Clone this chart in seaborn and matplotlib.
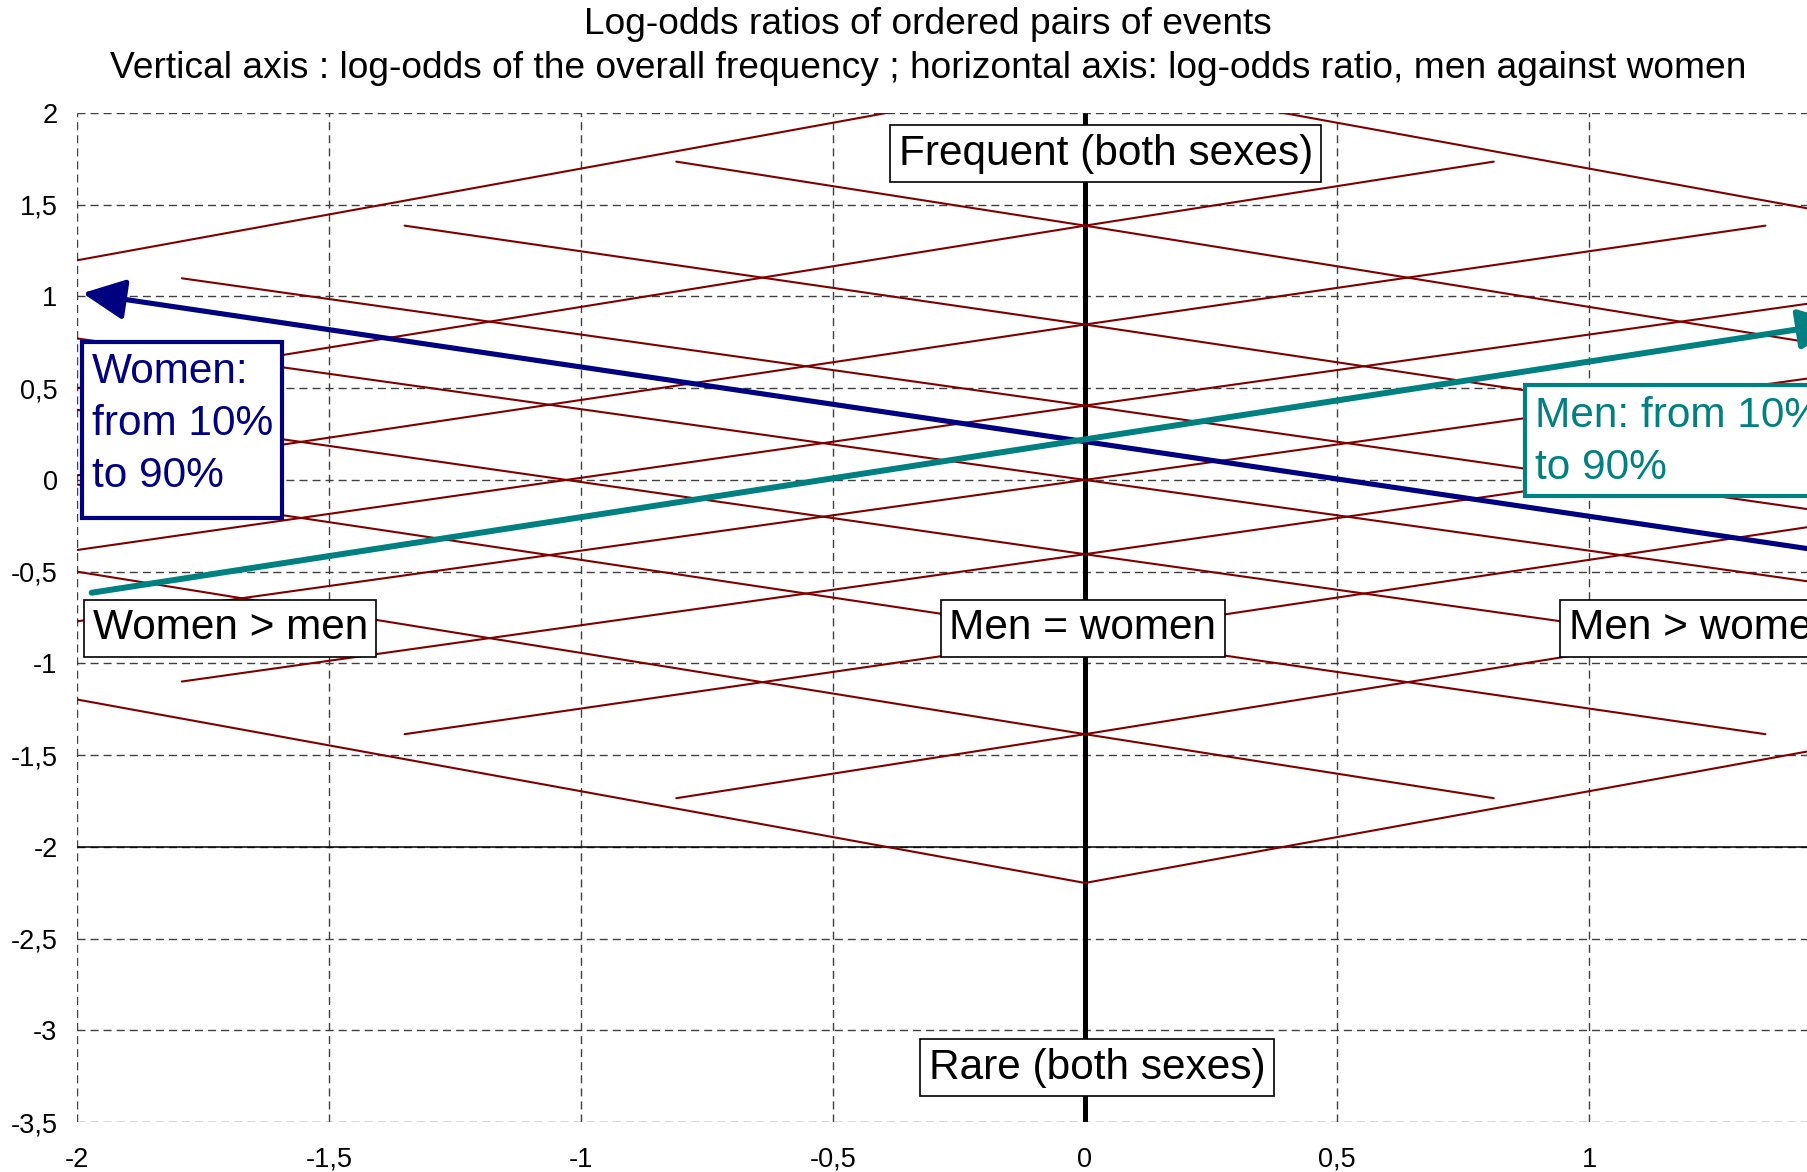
import numpy as np
import pandas as pd
import matplotlib
matplotlib.use("Agg")
import matplotlib.pyplot as plt
import seaborn as sns
from matplotlib.patches import Rectangle

# frequency levels and their log-odds where men = women (crossing on x = 0)
freq_labels = ['10%', '20%', '30%', '40%', '50%', '60%', '70%', '80%', '90%']
equal_logodds = [-2.197, -1.386, -0.847, -0.405, 0.0, 0.405, 0.847, 1.386, 2.197]

# men fixed at each level, women going from 90% to 10%
men_x_w90 = [-4.394, -3.583, -3.045, -2.602, -2.197, -1.792, -1.350, -0.811, 0.0]
men_y_w90 = [0.0, 0.201, 0.405, 0.619, 0.847, 1.099, 1.386, 1.735, 2.197]
men_x_w10 = [0.0, 0.811, 1.350, 1.792, 2.197, 2.602, 3.045, 3.583, 4.394]
men_y_w10 = [-2.197, -1.735, -1.386, -1.099, -0.847, -0.619, -0.405, -0.201, 0.0]

# women fixed at each level, men going from 10% to 90%
women_x_m10 = [0.0, -0.811, -1.350, -1.792, -2.197, -2.602, -3.045, -3.583, -4.394]
women_y_m10 = [-2.197, -1.735, -1.386, -1.099, -0.847, -0.619, -0.405, -0.201, 0.0]
women_x_m90 = [4.394, 3.583, 3.045, 2.602, 2.197, 1.792, 1.350, 0.811, 0.0]
women_y_m90 = [0.0, 0.201, 0.405, 0.619, 0.847, 1.099, 1.386, 1.735, 2.197]

# the two highlighted paths (arrows)
women_arrow_x = [2.0, -1.989]
women_arrow_y = [-0.605, 1.018]
men_arrow_x = [-1.971, 1.50]
men_arrow_y = [-0.615, 0.857]

# men = women line
diag_x = [0.0, 0.0]
diag_y = [-3.5, 2.0]

# the chart is cropped on the right, ticks past 1 fall outside the picture
x_ticks = [-2, -1.5, -1, -0.5, 0, 0.5, 1]
x_labels = ['-2', '-1,5', '-1', '-0,5', '0', '0,5', '1']
y_ticks = [2, 1.5, 1, 0.5, 0, -0.5, -1, -1.5, -2, -2.5, -3, -3.5]
y_labels = ['2', '1,5', '1', '0,5', '0', '-0,5', '-1', '-1,5', '-2', '-2,5', '-3', '-3,5']

RED = '#800000'
NAVY = '#000080'
TEAL = '#008080'


def build_lines():
    rows = []
    for i, lab in enumerate(freq_labels):
        pts = [(men_x_w90[i], men_y_w90[i]), (0.0, equal_logodds[i]), (men_x_w10[i], men_y_w10[i])]
        for k, (x, y) in enumerate(pts):
            rows.append({'x': x, 'y': y, 'series': 'men ' + lab, 'k': k})
        pts = [(women_x_m10[i], women_y_m10[i]), (0.0, equal_logodds[i]), (women_x_m90[i], women_y_m90[i])]
        for k, (x, y) in enumerate(pts):
            rows.append({'x': x, 'y': y, 'series': 'women ' + lab, 'k': k})
    return pd.DataFrame(rows)


def plot(df):
    sns.set_theme(style="white")
    plt.rcParams['font.family'] = ['Liberation Sans', 'DejaVu Sans']
    plt.rcParams['text.color'] = 'black'

    fig = plt.figure(figsize=(18.07, 11.72), dpi=100)
    # plot area runs past the right border of the picture (cropped chart)
    ax = fig.add_axes([77 / 1807, 50 / 1172, 2016 / 1807, 1009 / 1172])

    ax.plot(diag_x, diag_y, color='black', lw=3.6, zorder=2, solid_capstyle='butt')
    ax.axhline(-2, color='black', lw=1.1, zorder=2.5)

    sns.lineplot(data=df, x='x', y='y', units='series', estimator=None, sort=False,
                 color=RED, lw=1.5, legend=False, ax=ax, zorder=3)

    ax.annotate('', xy=(women_arrow_x[1], women_arrow_y[1]),
                xytext=(women_arrow_x[0], women_arrow_y[0]),
                arrowprops=dict(arrowstyle='-|>,head_length=1.3,head_width=0.62',
                                mutation_scale=20, color=NAVY, lw=3.7,
                                shrinkA=0, shrinkB=0), zorder=4)
    ax.annotate('', xy=(men_arrow_x[1], men_arrow_y[1]),
                xytext=(men_arrow_x[0], men_arrow_y[0]),
                arrowprops=dict(arrowstyle='-|>,head_length=1.3,head_width=0.62',
                                mutation_scale=20, color=TEAL, lw=4.3,
                                shrinkA=0, shrinkB=0), zorder=4)

    box = dict(boxstyle='square,pad=0.2', fc='white', ec='black', lw=1.2)
    fs = 30.5
    ax.text(-0.370, 1.718, 'Frequent (both sexes)', fontsize=fs, ha='left', va='baseline', bbox=box, zorder=6)
    ax.text(-0.310, -3.264, 'Rare (both sexes)', fontsize=fs, ha='left', va='baseline', bbox=box, zorder=6)
    ax.text(-0.269, -0.868, 'Men = women', fontsize=fs, ha='left', va='baseline', bbox=box, zorder=6)
    ax.text(-1.969, -0.868, 'Women > men', fontsize=fs, ha='left', va='baseline', bbox=box, zorder=6)
    ax.text(0.960, -0.868, 'Men > women', fontsize=fs, ha='left', va='baseline', bbox=box, zorder=6)

    ax.add_patch(Rectangle((-1.990, -0.207), 0.397, 0.959, fc='white', ec=NAVY, lw=3, zorder=5))
    ax.text(-1.971, 0.695, 'Women:\nfrom 10%\nto 90%', fontsize=fs, color=NAVY,
            ha='left', va='top', linespacing=1.38, zorder=6)
    ax.add_patch(Rectangle((0.873, -0.087), 1.3, 0.607, fc='white', ec=TEAL, lw=3, zorder=5))
    ax.text(0.893, 0.458, 'Men: from 10%\nto 90%', fontsize=fs, color=TEAL,
            ha='left', va='top', linespacing=1.38, zorder=6)

    ax.set_xlim(-2, 2)
    ax.set_ylim(-3.5, 2)
    ax.set_xticks(x_ticks)
    ax.set_xticklabels(x_labels)
    ax.set_yticks(y_ticks)
    ax.set_yticklabels(y_labels)
    ax.set_xlabel('')
    ax.set_ylabel('')
    ax.grid(True, color='#404040', lw=1.0, linestyle=(0, (5.8, 3.6)))
    ax.set_axisbelow(True)
    ax.tick_params(axis='both', length=0, labelsize=19.5, colors='black')
    ax.tick_params(axis='x', pad=18)
    ax.tick_params(axis='y', pad=14)
    for s in ax.spines.values():
        s.set_visible(False)

    fig.text(928 / 1807, 1 - 25 / 1172, 'Log-odds ratios of ordered pairs of events',
             fontsize=26.7, ha='center', va='center', color='black')
    fig.text(928 / 1807, 1 - 68 / 1172,
             'Vertical axis : log-odds of the overall frequency ; horizontal axis: log-odds ratio, men against women',
             fontsize=26.7, ha='center', va='center', color='black')

    fig.savefig('out.png', dpi=100)


if __name__ == '__main__':
    plot(build_lines())
